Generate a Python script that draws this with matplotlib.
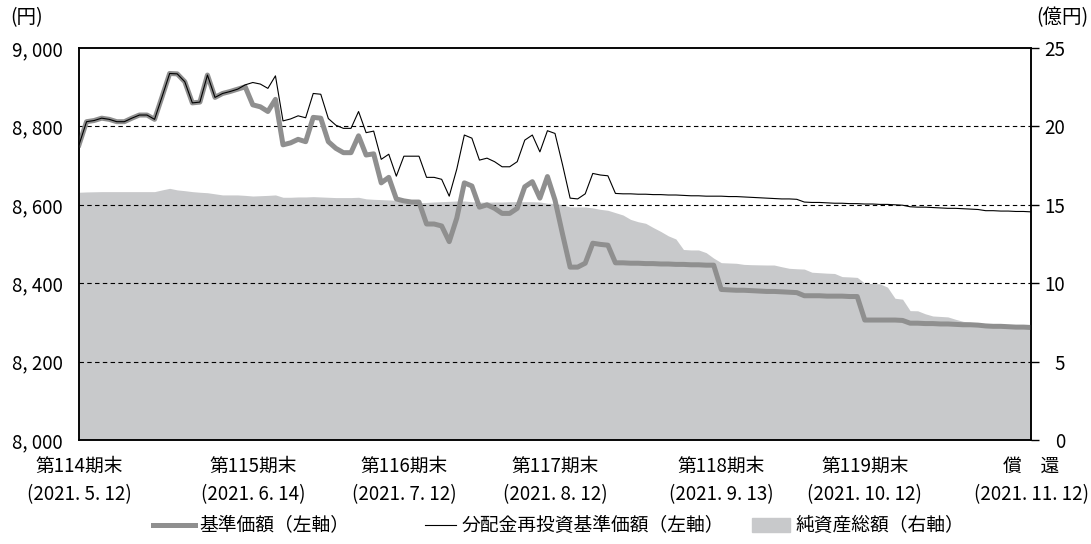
import matplotlib
matplotlib.use("Agg")
import matplotlib.pyplot as plt
from matplotlib.lines import Line2D
from matplotlib.patches import Rectangle
import numpy as np

plt.rcParams['font.family'] = ['Noto Sans CJK JP', 'DejaVu Sans']

# business-day index 0..126 (2021-05-12 .. 2021-11-12)
nav = [
    8753, 8812, 8815, 8821, 8818, 8812, 8812, 8821, 8829, 8829,
    8818, 8876, 8935, 8934, 8914, 8860, 8862, 8931, 8874, 8884,
    8889, 8895, 8901, 8855, 8850, 8838, 8869, 8753, 8758, 8767,
    8761, 8823, 8821, 8761, 8744, 8733, 8733, 8776, 8727, 8730,
    8656, 8670, 8615, 8610, 8607, 8607, 8551, 8551, 8546, 8506,
    8566, 8656, 8648, 8594, 8600, 8591, 8578, 8578, 8591, 8646,
    8659, 8617, 8672, 8612, 8525, 8441, 8441, 8451, 8502, 8499,
    8497, 8452, 8452, 8451, 8451, 8450, 8450, 8449, 8449, 8448,
    8448, 8447, 8447, 8446, 8446, 8384, 8383, 8382, 8382, 8381,
    8380, 8379, 8379, 8378, 8377, 8376, 8368, 8368, 8368, 8367,
    8367, 8367, 8366, 8366, 8306, 8306, 8306, 8306, 8306, 8305,
    8298, 8298, 8297, 8297, 8296, 8296, 8295, 8294, 8294, 8293,
    8291, 8290, 8290, 8289, 8288, 8288, 8287]

reinvest = nav[:22] + [
    8906, 8912, 8908, 8897, 8929, 8814, 8819, 8827,
    8822, 8884, 8882, 8820, 8803, 8795, 8795, 8838, 8784, 8788,
    8716, 8729, 8673, 8724, 8724, 8724, 8670, 8670, 8665, 8622,
    8691, 8778, 8770, 8714, 8719, 8710, 8697, 8697, 8710, 8765,
    8778, 8735, 8789, 8782, 8702, 8617, 8615, 8628, 8680, 8676,
    8674, 8629, 8628, 8628, 8627, 8627, 8626, 8626, 8625, 8625,
    8624, 8623, 8623, 8622, 8622, 8622, 8621, 8621, 8620, 8619,
    8618, 8617, 8616, 8615, 8615, 8614, 8607, 8606, 8606, 8605,
    8604, 8604, 8603, 8603, 8602, 8602, 8601, 8601, 8600, 8599,
    8595, 8594, 8594, 8593, 8592, 8591, 8591, 8590, 8589, 8588,
    8585, 8585, 8584, 8584, 8583, 8583, 8582]

net_assets = [
    15.80, 15.82, 15.83, 15.84, 15.84, 15.84, 15.84, 15.84, 15.84, 15.84,
    15.84, 15.95, 16.05, 15.95, 15.90, 15.84, 15.80, 15.77, 15.70, 15.63,
    15.63, 15.63, 15.60, 15.56, 15.58, 15.60, 15.63, 15.48, 15.48, 15.50,
    15.50, 15.52, 15.50, 15.48, 15.46, 15.46, 15.46, 15.48, 15.38, 15.35,
    15.33, 15.31, 15.28, 15.20, 15.15, 15.13, 15.15, 15.18, 15.20, 15.22,
    15.24, 15.24, 15.20, 15.17, 15.17, 15.18, 15.18, 15.20, 15.20, 15.20,
    15.20, 15.18, 15.10, 15.09, 15.00, 14.86, 14.86, 14.86, 14.80, 14.71,
    14.65, 14.50, 14.35, 14.07, 13.92, 13.82, 13.55, 13.30, 13.02, 12.82,
    12.15, 12.12, 12.12, 11.95, 11.60, 11.31, 11.29, 11.27, 11.20, 11.18,
    11.17, 11.16, 11.16, 11.05, 10.95, 10.92, 10.90, 10.70, 10.67, 10.64,
    10.62, 10.42, 10.40, 10.37, 10.00, 9.98, 9.96, 9.75, 9.04, 8.98,
    8.25, 8.24, 8.05, 7.91, 7.88, 7.85, 7.70, 7.57, 7.50, 7.45,
    7.40, 7.38, 7.35, 7.33, 7.30, 7.28, 7.25]

tick_idx = [0, 23, 43, 63, 85, 104, 126]
tick_labels = ['第114期末\n(2021. 5. 12)', '第115期末\n(2021. 6. 14)',
               '第116期末\n(2021. 7. 12)', '第117期末\n(2021. 8. 12)',
               '第118期末\n(2021. 9. 13)', '第119期末\n(2021. 10. 12)',
               '償\u3000還\n(2021. 11. 12)']
left_ticks = [8000, 8200, 8400, 8600, 8800, 9000]
left_labels = ['8, 000', '8, 200', '8, 400', '8, 600', '8, 800', '9, 000']
right_ticks = [0, 5, 10, 15, 20, 25]

W, H = 1091, 544
fs = 13.5
fig = plt.figure(figsize=(W / 100, H / 100), dpi=100)
ax = fig.add_axes([79 / W, 104 / H, 952 / W, 392 / H])
ax2 = ax.twinx()
ax.set_zorder(ax2.get_zorder() + 1)
ax.patch.set_visible(False)

x = np.arange(len(nav))
ax2.fill_between(x, 0, net_assets, color='#c8c9cb', linewidth=0)
ax2.set_ylim(0, 25)

for v in left_ticks[1:-1]:
    ax.axhline(v, color='black', lw=0.8, ls=(0, (4, 3)), zorder=1)
ax.plot(x, nav, color='#8f8f8f', lw=3.6, solid_joinstyle='round', zorder=2)
ax.plot(x, reinvest, color='black', lw=0.8, zorder=3)

ax.set_xlim(0, 126)
ax.set_ylim(8000, 9000)
ax.set_yticks(left_ticks)
ax.set_yticklabels(left_labels, fontsize=fs)
ax.set_xticks(tick_idx)
ax.set_xticklabels(tick_labels, fontsize=fs, linespacing=1.45)
ax.tick_params(axis='y', length=0, pad=11.5)
ax.tick_params(axis='x', length=0, pad=11.5)

ax2.set_yticks(right_ticks)
ax2.set_yticklabels([str(t) for t in right_ticks], fontsize=fs)
ax2.tick_params(axis='y', direction='out', length=6, width=1.0, pad=18.5)
for t in ax2.get_yticklabels():
    t.set_ha('right')

for a in (ax, ax2):
    for s in a.spines.values():
        s.set_linewidth(1.1)
        s.set_color('black')

fig.text(10 / W, 1 - 18 / H, '(円)', fontsize=fs + 0.5, va='center', ha='left')
fig.text(1088 / W, 1 - 18 / H, '(億円)', fontsize=fs + 0.5, va='center', ha='right')

# legend
ly = 1 - 525 / H
fig.add_artist(Line2D([153 / W, 195 / W], [ly, ly], color='#8f8f8f', lw=3.6))
fig.text(199 / W, ly, '基準価額（左軸）', fontsize=fs, va='center', ha='left')
fig.add_artist(Line2D([425 / W, 456 / W], [ly, ly], color='black', lw=0.8))
fig.text(462 / W, ly, '分配金再投資基準価額（左軸）', fontsize=fs, va='center', ha='left')
fig.add_artist(Rectangle((752 / W, 1 - 532 / H), 38 / W, 14 / H,
                         color='#c8c9cb', transform=fig.transFigure))
fig.text(796 / W, ly, '純資産総額（右軸）', fontsize=fs, va='center', ha='left')

fig.savefig('out.png', dpi=100)
